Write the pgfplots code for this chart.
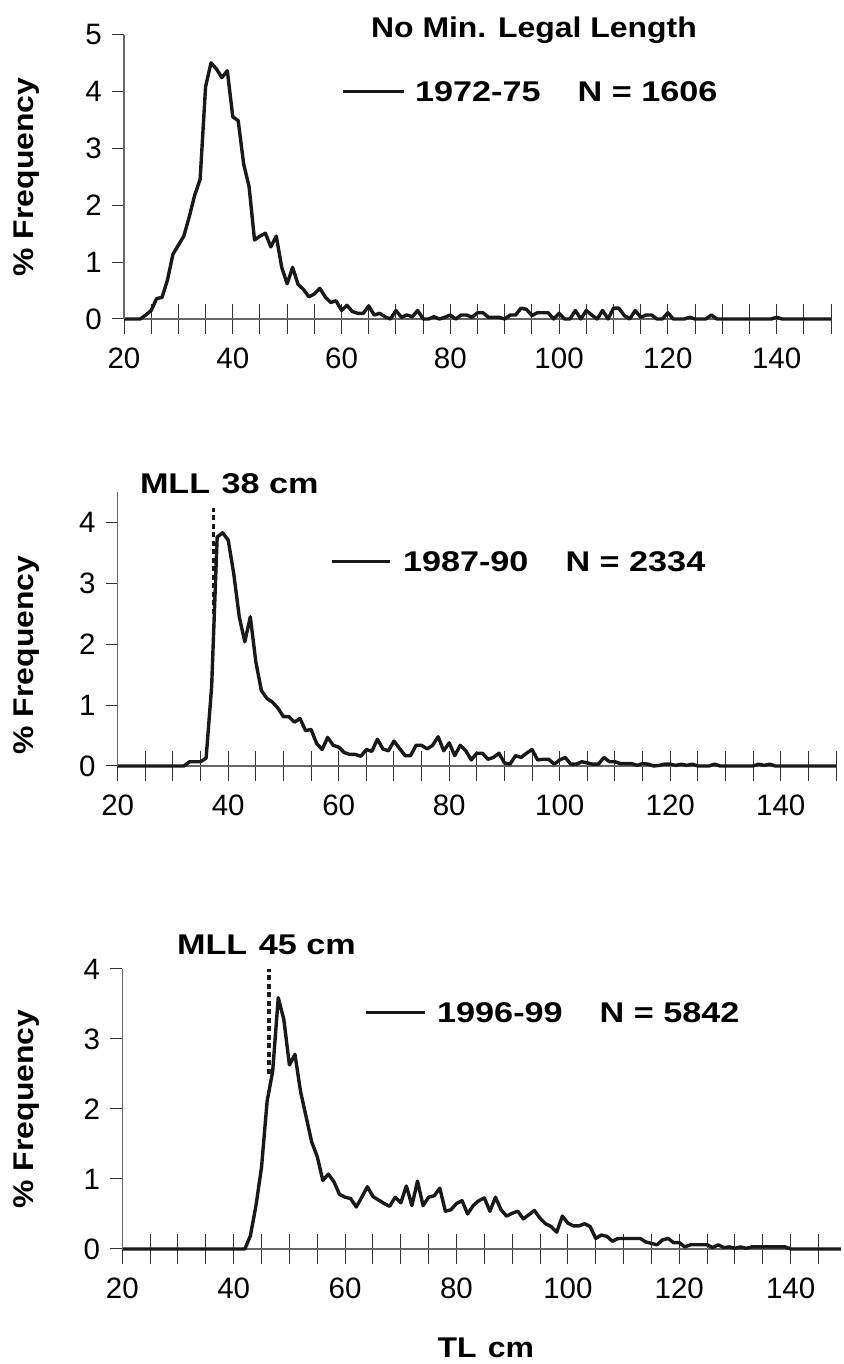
\documentclass[border=0pt]{standalone}
\usepackage{fontspec}
\setmainfont{Liberation Sans}
\newfontfamily\bwfam{Liberation Sans}[FakeStretch=1.2]
\newfontfamily\bnfam{Liberation Sans}[FakeStretch=1.12]
\newcommand\bw{\bwfam\bfseries\fontsize{28.5bp}{33bp}\selectfont}
\newcommand\bn{\bnfam\bfseries\fontsize{28.5bp}{33bp}\selectfont}
\newcommand\fs{\fontsize{29.5bp}{34bp}\selectfont}
\usepackage{pgfplots}
\pgfplotsset{compat=1.18}

\pgfplotstableread{
x y
20 0
21 0
22 0
23 0
24 0.07
25 0.15
26 0.36
27 0.38
28 0.69
29 1.14
30 1.30
31 1.46
32 1.80
33 2.18
34 2.46
35 4.09
36 4.51
37 4.40
38 4.25
39 4.37
40 3.56
41 3.49
42 2.73
43 2.33
44 1.39
45 1.46
46 1.51
47 1.27
48 1.46
49 0.91
50 0.62
51 0.91
52 0.61
53 0.52
54 0.39
55 0.44
56 0.54
57 0.39
58 0.29
59 0.32
60 0.15
61 0.24
62 0.13
63 0.10
64 0.10
65 0.23
66 0.07
67 0.10
68 0.04
69 0
70 0.15
71 0.03
72 0.07
73 0.04
74 0.15
75 0
76 0
77 0.04
78 0
79 0.03
80 0.07
81 0
82 0.07
83 0.07
84 0.03
85 0.11
86 0.11
87 0.03
88 0.03
89 0.03
90 0
91 0.07
92 0.07
93 0.19
94 0.17
95 0.06
96 0.11
97 0.11
98 0.11
99 0
100 0.10
101 0
102 0
103 0.15
104 0
105 0.15
106 0.07
107 0
108 0.15
109 0
110 0.19
111 0.19
112 0.06
113 0
114 0.15
115 0.03
116 0.07
117 0.07
118 0
119 0
120 0.11
121 0
122 0
123 0
124 0.03
125 0
126 0
127 0
128 0.07
129 0
139 0
140 0.03
141 0
150 0
}\dataA

\pgfplotstableread{
x y
20 0
32 0
33 0.07
34 0.07
35 0.07
36 0.13
37 1.30
38 3.76
39 3.83
40 3.71
41 3.16
42 2.45
43 2.04
44 2.45
45 1.71
46 1.24
47 1.11
48 1.05
49 0.95
50 0.81
51 0.81
52 0.72
53 0.78
54 0.58
55 0.60
56 0.37
57 0.27
58 0.47
59 0.34
60 0.31
61 0.22
62 0.19
63 0.19
64 0.16
65 0.27
66 0.24
67 0.44
68 0.28
69 0.25
70 0.41
71 0.29
72 0.17
73 0.17
74 0.34
75 0.34
76 0.28
77 0.34
78 0.48
79 0.25
80 0.38
81 0.17
82 0.34
83 0.25
84 0.10
85 0.21
86 0.21
87 0.11
88 0.14
89 0.21
90 0.05
91 0.03
92 0.17
93 0.14
94 0.21
95 0.27
96 0.10
97 0.11
98 0.11
99 0.03
100 0.10
101 0.14
102 0.03
103 0.03
104 0.07
105 0.05
106 0.03
107 0.03
108 0.14
109 0.07
110 0.07
111 0.04
112 0.04
113 0.04
114 0.01
115 0.04
116 0.03
117 0
118 0.01
119 0.03
120 0.03
121 0.01
122 0.03
123 0.01
124 0.03
125 0
127 0
128 0.03
129 0
135 0
136 0.03
137 0.01
138 0.03
139 0
150 0
}\dataB

\pgfplotstableread{
x y
20 0
42 0
43 0.19
44 0.62
45 1.17
46 2.11
47 2.54
48 3.59
49 3.28
50 2.63
51 2.78
52 2.25
53 1.89
54 1.53
55 1.32
56 0.98
57 1.07
58 0.96
59 0.78
60 0.74
61 0.72
62 0.60
63 0.74
64 0.89
65 0.75
66 0.70
67 0.65
68 0.61
69 0.74
70 0.66
71 0.90
72 0.62
73 0.97
74 0.62
75 0.74
76 0.76
77 0.87
78 0.54
79 0.56
80 0.65
81 0.69
82 0.50
83 0.62
84 0.69
85 0.73
86 0.54
87 0.74
88 0.56
89 0.47
90 0.51
91 0.54
92 0.43
93 0.49
94 0.55
95 0.44
96 0.36
97 0.32
98 0.24
99 0.47
100 0.37
101 0.33
102 0.33
103 0.36
104 0.32
105 0.15
106 0.20
107 0.18
108 0.11
109 0.15
110 0.15
111 0.15
112 0.15
113 0.15
114 0.10
115 0.08
116 0.06
117 0.13
118 0.15
119 0.09
120 0.09
121 0.03
122 0.06
123 0.06
124 0.06
125 0.06
126 0.02
127 0.06
128 0.02
129 0.03
130 0.01
131 0.03
132 0.01
133 0.03
134 0.03
135 0.03
136 0.03
137 0.03
138 0.03
139 0.03
140 0
149 0
}\dataC

\pgfplotsset{
  panelx/.style={scale only axis, axis x line=bottom, axis y line=none,
    xmin=20, ymin=0, clip=false, tick align=center, major tick length=30bp,
    xtick={20,25,...,150},
    xticklabels={20,,,,40,,,,60,,,,80,,,,100,,,,120,,,,140,,},
    axis line style={-, line width=1.4bp, black!60},
    xtick style={line width=1bp, black!80},
    xticklabel style={font=\fs, inner sep=0pt, anchor=north, yshift=-14bp},
  },
  panely/.style={scale only axis, axis y line=left, axis x line=none,
    xmin=20, ymin=0, clip=false, tick align=outside, major tick length=12bp,
    axis line style={-, line width=1.4bp, black!60},
    ytick style={line width=1bp, black!80},
    /pgf/number format/assume math mode=true,
    yticklabel style={font=\fs, inner sep=0pt, anchor=east, xshift=-10bp},
  },
  dataline/.style={line width=3.4bp, black!90, line join=round},
  legline/.style={forget plot, line width=3bp, black!90},
  mll/.style={forget plot, line width=3.5bp, black!90, dash pattern=on 5bp off 3.5bp},
}

\begin{document}
\begin{tikzpicture}
\path[use as bounding box] (0,0) rectangle (844bp,1364bp);

% ---------- Panel 1 ----------
\begin{axis}[panelx, at={(124bp,1045bp)}, anchor=south west,
  width=707bp, height=284bp, xmax=150, ymax=5]
  \addplot[dataline] table[x=x,y=y] {\dataA};
  \addplot[legline] coordinates {(60.3,4.0) (71.5,4.0)};
  \node[anchor=west, inner sep=0pt, font=\bw] at (axis cs:73.5,4.0) {1972-75\hspace{1.3em}N = 1606};
  \node[anchor=base west, inner sep=0pt, font=\bn] at (axis cs:65.4,4.96) {No Min. Legal Length};
\end{axis}
\begin{axis}[panely, at={(124bp,1045bp)}, anchor=south west,
  width=707bp, height=284bp, xmax=150, ymax=5, ytick={0,1,2,3,4,5},
  ylabel={\% Frequency},
  every axis y label/.style={at={(axis description cs:-0.1372,0.5)}, rotate=90, anchor=center, font=\bn}]
\end{axis}

% ---------- Panel 2 ----------
\begin{axis}[panelx, at={(117.7bp,598bp)}, anchor=south west,
  width=718.3bp, height=274bp, xmax=150, ymax=4.5]
  \addplot[dataline] table[x=x,y=y] {\dataB};
  \addplot[legline] coordinates {(58.84,3.355) (69.3,3.355)};
  \node[anchor=west, inner sep=0pt, font=\bw] at (axis cs:71.6,3.355) {1987-90\hspace{1.3em}N = 2334};
  \addplot[mll] coordinates {(37.3,2.5) (37.3,4.23)};
  \node[anchor=base west, inner sep=0pt, font=\bw] at (axis cs:24.0,4.48) {MLL\hspace{0.4em}38 cm};
\end{axis}
\begin{axis}[panely, at={(117.7bp,598bp)}, anchor=south west,
  width=718.3bp, height=274bp, xmax=150, ymax=4.5, ytick={0,1,2,3,4},
  ylabel={\% Frequency},
  every axis y label/.style={at={(axis description cs:-0.1263,0.405)}, rotate=90, anchor=center, font=\bn}]
\end{axis}

% ---------- Panel 3 ----------
\begin{axis}[panelx, at={(122.3bp,115bp)}, anchor=south west,
  width=718.5bp, height=280bp, xmax=149, ymax=4, xtick={20,25,...,145},
  xlabel={TL\hspace{0.4em}cm},
  every axis x label/.style={at={(axis description cs:0.506,-0.354)}, anchor=center, font=\bn}]
  \addplot[dataline] table[x=x,y=y] {\dataC};
  \addplot[legline] coordinates {(63.7,3.376) (74.3,3.376)};
  \node[anchor=west, inner sep=0pt, font=\bw] at (axis cs:76.5,3.376) {1996-99\hspace{1.3em}N = 5842};
  \addplot[mll] coordinates {(46.3,2.5) (46.3,4.0)};
  \node[anchor=base west, inner sep=0pt, font=\bw] at (axis cs:29.8,4.2) {MLL\hspace{0.4em}45 cm};
\end{axis}
\begin{axis}[panely, at={(122.3bp,115bp)}, anchor=south west,
  width=718.5bp, height=280bp, xmax=149, ymax=4, ytick={0,1,2,3,4},
  ylabel={\% Frequency},
  every axis y label/.style={at={(axis description cs:-0.1326,0.5)}, rotate=90, anchor=center, font=\bn}]
\end{axis}
\end{tikzpicture}
\end{document}
